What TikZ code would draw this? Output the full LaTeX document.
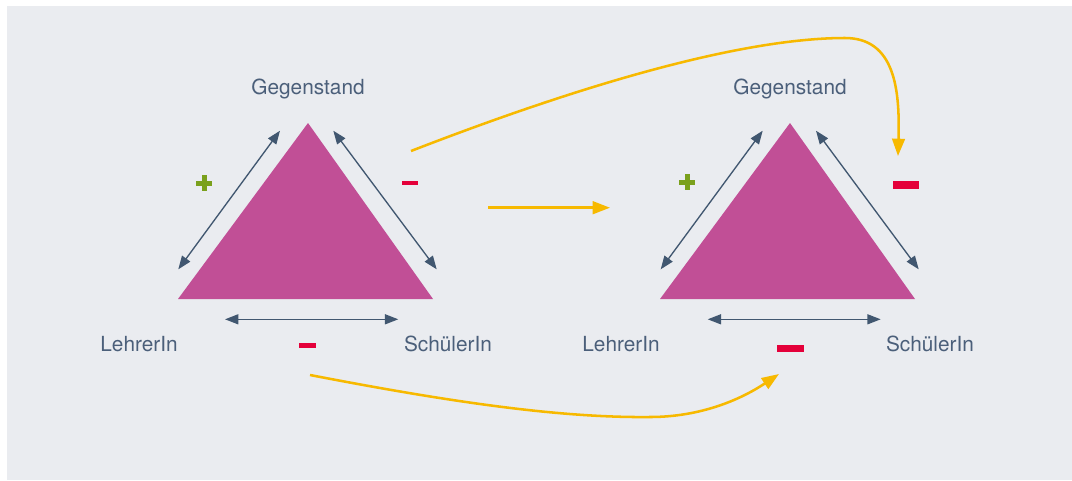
\documentclass[tikz,border=0pt]{standalone}
\usepackage{fontspec}
\setmainfont{TeX Gyre Heros}
\usetikzlibrary{arrows.meta}
\definecolor{bgc}{RGB}{234,236,240}
\definecolor{txtc}{RGB}{75,95,122}
\definecolor{arrc}{RGB}{65,87,112}
\definecolor{tric}{RGB}{193,79,150}
\definecolor{yelc}{RGB}{247,185,0}
\definecolor{redc}{RGB}{228,0,58}
\definecolor{grnc}{RGB}{122,160,28}
\begin{document}
\begin{tikzpicture}[x=0.75pt,y=-0.75pt,
  lbl/.style={text=txtc,font=\fontsize{15.6}{18}\selectfont,anchor=base,inner sep=0pt},
  rel/.style={draw=arrc,line width=1pt,{Triangle[length=10pt,width=7.5pt]}-{Triangle[length=10pt,width=7.5pt]}},
  flow/.style={draw=yelc,line width=1.9pt,-{Triangle[length=13pt,width=9.5pt]}},
  tri/.style={fill=tric},
  plusbar/.style={fill=grnc},
  minusbar/.style={fill=redc}]
\useasboundingbox (0,0) rectangle (1072,480);
\fill[bgc] (7,6) rectangle (1072,480);

% left triangle
\fill[tri] (308,123) -- (433,299) -- (178,299) -- cycle;
% right triangle
\fill[tri] (790,123) -- (915,299) -- (660,299) -- cycle;

% labels
\node[lbl] (g1) at (308,94) {Gegenstand};
\node[lbl] (l1) at (139,351) {LehrerIn};
\node[lbl] (s1) at (448,351) {SchülerIn};
\node[lbl] (g2) at (790,94) {Gegenstand};
\node[lbl] (l2) at (621,351) {LehrerIn};
\node[lbl] (s2) at (930,351) {SchülerIn};

% relation arrows, left
\coordinate (a1) at (178.3,269.3);
\coordinate (a2) at (280,130.7);
\coordinate (b1) at (333.3,130.7);
\coordinate (b2) at (436.7,269.3);
\coordinate (c1) at (225,319.3);
\coordinate (c2) at (398.3,319.3);
\draw[rel] (a1) -- (a2);
\draw[rel] (b1) -- (b2);
\draw[rel] (c1) -- (c2);
% relation arrows, right
\coordinate (d1) at (660.7,269.3);
\coordinate (d2) at (762.7,130.7);
\coordinate (e1) at (816,130.7);
\coordinate (e2) at (918.7,269.3);
\coordinate (f1) at (707.7,319.3);
\coordinate (f2) at (880.7,319.3);
\draw[rel] (d1) -- (d2);
\draw[rel] (e1) -- (e2);
\draw[rel] (f1) -- (f2);

% plus signs
\fill[plusbar] (196,180.5) rectangle (212,185.5);
\fill[plusbar] (201.5,175) rectangle (206.5,191);
\fill[plusbar] (679,179.5) rectangle (695,184.5);
\fill[plusbar] (684.5,174) rectangle (689.5,190);

% minus signs
\fill[minusbar] (402,180.7) rectangle (418,185.3);
\fill[minusbar] (299,342.5) rectangle (315.5,347.5);
\fill[minusbar] (892.5,181) rectangle (918.5,189);
\fill[minusbar] (776.5,344.5) rectangle (803.5,351.5);

% flow arrows
\coordinate (m1) at (488,207.7);
\coordinate (m2) at (610,207.7);
\draw[flow] (m1) -- (m2);
\coordinate (t1) at (411,151);
\coordinate (t2) at (845,38);
\coordinate (t3) at (898,156);
\draw[flow] (t1) .. controls (620,70) and (760,38) .. (t2) .. controls (895,38) and (900,90) .. (t3);
\coordinate (u1) at (310,375);
\coordinate (u2) at (650,417);
\coordinate (u3) at (779,374);
\draw[flow] (u1) .. controls (450,402) and (560,418) .. (u2) .. controls (700,417) and (740,400) .. (u3);
\end{tikzpicture}
\end{document}
